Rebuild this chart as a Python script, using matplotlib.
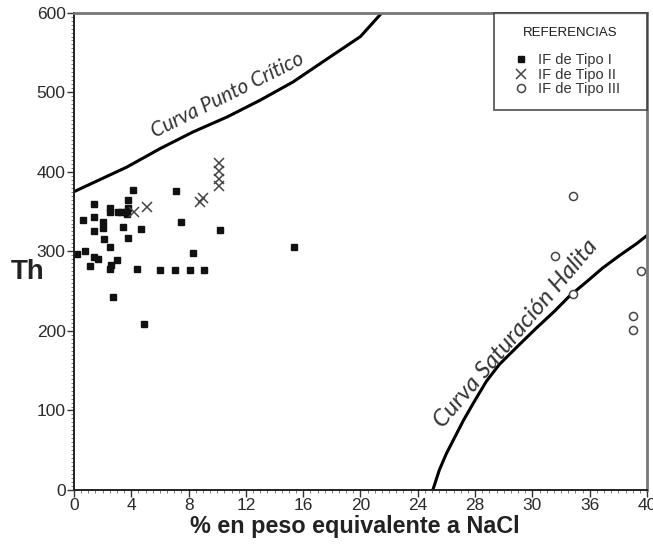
import matplotlib
matplotlib.use("Agg")
import matplotlib.pyplot as plt
from matplotlib.ticker import MultipleLocator, FixedLocator
from matplotlib.lines import Line2D

# datos
tipo1_x = [0.2, 0.6, 0.8, 1.1, 1.4, 1.4, 1.4, 1.4, 1.65, 2.0, 2.0, 2.1, 2.5, 2.5,
           2.5, 2.6, 2.5, 2.75, 3.0, 3.1, 3.3, 3.6, 3.8, 3.7, 3.4, 3.8, 3.8, 4.1,
           4.4, 4.7, 4.9, 6.0, 7.05, 7.1, 7.5, 8.1, 8.3, 9.1, 10.2, 15.35]
tipo1_y = [297, 340, 300, 282, 360, 343, 325, 293, 291, 337, 329, 316, 354, 350,
           305, 283, 278, 243, 289, 350, 349, 350, 354, 347, 330, 365, 317, 377,
           278, 328, 209, 276, 276, 376, 337, 276, 298, 276, 327, 306]

tipo2_x = [4.2, 5.1, 8.8, 9.0, 10.1, 10.1, 10.1, 10.1]
tipo2_y = [349, 356, 362, 367, 411, 401, 391, 382]

tipo3_x = [34.8, 33.6, 34.8, 39.6, 39.0, 39.0]
tipo3_y = [370, 294, 247, 275, 219, 201]

critico_x = [0.0, 3.7, 6.0, 8.3, 10.7, 13.0, 15.3, 17.6, 20.0, 21.5]
critico_y = [375, 406, 429, 450, 469, 490, 513, 541, 570, 600]

halita_x = [25.05, 25.5, 26.0, 26.6, 27.2, 28.0, 28.8, 29.7, 31.1, 32.3, 33.5,
            34.6, 35.8, 36.9, 38.1, 39.3, 40.0]
halita_y = [0, 25, 46, 67, 88, 113, 137, 158, 183, 204, 224, 244, 262, 279,
            295, 310, 320]

xticks = [0, 4, 8, 12, 16, 20, 24, 28, 32, 36, 40]
xticklabels = ["0", "4", "8", "12", "16", "20", "24", "28", "30", "36", "40"]
yticks = [0, 100, 200, 300, 400, 500, 600]

sans = ["Liberation Sans", "DejaVu Sans"]
gris = "#333333"

fig = plt.figure(figsize=(6.53, 5.5), dpi=100)
ax = fig.add_axes([0.1133, 0.109, 0.8775, 0.868])

ax.plot(critico_x, critico_y, color="black", lw=2.2, solid_joinstyle="round")
ax.plot(halita_x, halita_y, color="black", lw=2.2, solid_joinstyle="round")

ax.plot(tipo1_x, tipo1_y, "s", ms=4.0, color="#111111", ls="none")
ax.plot(tipo2_x, tipo2_y, "x", ms=6.5, mew=1.1, color="#444444", ls="none")
ax.plot(tipo3_x, tipo3_y, "o", ms=5.8, mfc="white", mec="#444444", mew=1.1, ls="none")

ax.text(10.7, 496, "Curva Punto Crítico", rotation=26.5, ha="center", va="center",
        fontsize=14.8, style="italic", family=["Lato", "DejaVu Sans"], color=gris)
ax.text(30.85, 196, "Curva Saturación Halita", rotation=49.5, ha="center", va="center",
        fontsize=17.3, style="italic", family=["Lato", "DejaVu Sans"], color=gris)

ax.set_xlim(0, 40)
ax.set_ylim(0, 600)
ax.xaxis.set_major_locator(FixedLocator(xticks))
ax.set_xticklabels(xticklabels)
ax.set_yticks(yticks)
ax.xaxis.set_minor_locator(MultipleLocator(0.5))
ax.yaxis.set_minor_locator(MultipleLocator(5))
ax.tick_params(which="major", length=5, width=1, color=gris, labelsize=12.5,
               labelcolor="#2a2a2a", pad=1)
ax.tick_params(which="minor", length=2.5, width=0.6, color="#666666")
for lab in ax.get_xticklabels() + ax.get_yticklabels():
    lab.set_family(sans)

for s in ["left", "bottom"]:
    ax.spines[s].set_color("#222222")
    ax.spines[s].set_linewidth(1.4)
for s in ["right", "top"]:
    ax.spines[s].set_color("#777777")
    ax.spines[s].set_linewidth(2)

ax.set_xlabel("% en peso equivalente a NaCl", fontsize=16.8, fontweight="bold",
              family=sans, color="#222222")
ax.xaxis.set_label_coords(0.4895, -0.053)
fig.text(0.043, 0.505, "Th", fontsize=20, fontweight="bold", family=sans,
         color="#222222", ha="center", va="center")

handles = [
    Line2D([], [], marker="s", ms=4.0, color="#111111", ls="none"),
    Line2D([], [], marker="x", ms=6.5, mew=1.1, color="#444444", ls="none"),
    Line2D([], [], marker="o", ms=5.8, mfc="white", mec="#444444", mew=1.1, ls="none"),
]
leg = ax.legend(handles, ["IF de Tipo I", "IF de Tipo II", "IF de Tipo III"],
                title="REFERENCIAS\n", loc="upper right",
                bbox_to_anchor=(0.733, 0.5, 0.267, 0.5), mode="expand",
                borderaxespad=0, frameon=True, fancybox=False, edgecolor="#333333",
                prop={"family": "Liberation Sans", "size": 10.5}, labelspacing=0.05,
                handlelength=1.85, handletextpad=0.2, borderpad=0.95,
                title_fontproperties={"family": "Liberation Sans", "size": 9.5})
leg.get_frame().set_linewidth(1.3)
leg.get_title().set_color("#1a1a1a")
for t in leg.get_texts():
    t.set_color(gris)

fig.savefig("out.png", dpi=100)
